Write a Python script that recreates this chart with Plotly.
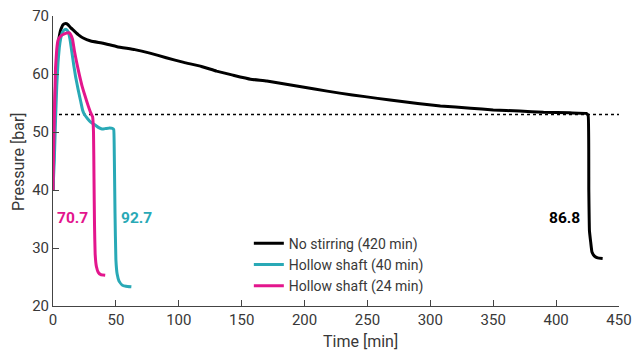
import plotly.graph_objects as go

# ---- data ----
t_none = [0, 1, 2, 3, 4, 5, 6, 7, 8, 10, 12, 14, 17, 20, 24, 30, 40, 51, 65, 77, 90, 104, 118, 130,
          143, 157, 170, 189, 208, 228, 248, 268, 290, 308, 332, 350, 371, 390, 411, 424, 425.5,
          426, 426.5, 427.5, 428.5, 430.5, 433, 437]
p_none = [40, 50, 58, 62.5, 65, 66.5, 67.5, 68.1, 68.5, 68.7, 68.5, 68, 67.4, 66.8, 66.2, 65.7, 65.3,
          64.7, 64.2, 63.6, 62.8, 62.0, 61.3, 60.5, 59.8, 59.1, 58.8, 58.1, 57.4, 56.7, 56.1, 55.5,
          54.9, 54.5, 54.1, 53.8, 53.6, 53.4, 53.3, 53.2, 52.8, 40, 33, 31, 29.3, 28.6, 28.3, 28.2]

t_40 = [0, 1, 2, 3, 4, 5, 6, 7, 8, 9, 10.5, 12, 13.5, 15, 16.5, 18, 20, 22, 23.5, 25, 27.5, 30,
        33.5, 36, 39, 42, 45, 47.5, 48.3, 48.8, 49.3, 50, 51, 52.5, 55, 58, 62.3]
p_40 = [40, 45, 52, 58, 62, 64.5, 66, 66.9, 67.4, 67.6, 67.7, 67.3, 66, 63.8, 61.5, 59.5, 57.3,
        55.3, 53.8, 53, 52.3, 51.7, 51.2, 50.8, 50.5, 50.6, 50.7, 50.6, 50.4, 45, 36, 28, 25.5,
        24.3, 23.6, 23.4, 23.3]

t_24 = [0, 0.5, 1, 2, 3, 4, 6, 8, 10, 12, 13, 14, 15.5, 17, 19, 21, 23, 25.5, 28, 30, 31.5, 32.2,
        32.6, 33, 33.5, 34.5, 36, 38, 41.5]
p_24 = [40, 47, 52, 61, 64.3, 65.8, 66.5, 66.8, 67, 67.1, 67.1, 66.8, 66, 64, 61.8, 59.8, 58, 56.2,
        54.5, 53.3, 52.6, 50, 42, 34, 29, 26.8, 25.8, 25.4, 25.3]

threshold_t = [0, 450]
threshold_p = [53, 53]

names = ["No stirring (420 min)", "Hollow shaft (40 min)", "Hollow shaft (24 min)"]
colors = ["#000000", "#29A9B6", "#E3168D"]

label_text = ["86.8", "92.7", "70.7"]
label_t = [407, 66.7, 15.5]
label_p = [35.2, 35.2, 35.2]

x_ticks = [0, 50, 100, 150, 200, 250, 300, 350, 400, 450]
y_ticks = [20, 30, 40, 50, 60, 70]
x_title = "Time [min]"
y_title = "Pressure [bar]"

FONT = "Roboto"
TXT = "#383838"

fig = go.Figure()
fig.add_trace(go.Scatter(x=threshold_t, y=threshold_p, mode="lines", showlegend=False,
                         line=dict(color="#000000", width=1.5, dash="dot"), hoverinfo="skip"))
for t, p, n, c in zip([t_none, t_40, t_24], [p_none, p_40, p_24], names, colors):
    fig.add_trace(go.Scatter(x=t, y=p, mode="lines", name=n,
                             line=dict(color=c, width=3, shape="spline", smoothing=0.3)))

for txt, x, y, c in zip(label_text, label_t, label_p, colors):
    fig.add_annotation(x=x, y=y, text="<b>" + txt + "</b>", showarrow=False,
                       font=dict(family=FONT, size=15.5, color=c), xanchor="center", yanchor="middle")

# axis titles
fig.add_annotation(xref="paper", yref="paper", x=0.544, y=-0.124, text=x_title, showarrow=False,
                   xanchor="center", yanchor="middle", font=dict(family=FONT, size=16, color=TXT))
fig.add_annotation(xref="paper", yref="paper", x=-0.062, y=0.5, text=y_title, showarrow=False,
                   textangle=-90, xanchor="center", yanchor="middle",
                   font=dict(family=FONT, size=16, color=TXT))

fig.update_layout(
    width=632, height=350,
    margin=dict(l=53, r=13, t=16, b=44),
    paper_bgcolor="white", plot_bgcolor="white",
    font=dict(family=FONT, size=15, color=TXT),
    legend=dict(x=0.346, y=0.27, xanchor="left", yanchor="top", bgcolor="rgba(0,0,0,0)",
                font=dict(family=FONT, size=14, color=TXT), tracegroupgap=0, itemwidth=30),
)
fig.update_xaxes(range=[0, 450], tickvals=x_ticks, showline=True, linecolor="#444444", linewidth=1,
                 ticks="inside", ticklen=6, tickcolor="#444444", showgrid=False, zeroline=False,
                 automargin=False, tickfont=dict(family=FONT, size=15, color=TXT))
fig.update_yaxes(range=[20, 70], tickvals=y_ticks, showline=True, linecolor="#444444", linewidth=1,
                 ticks="inside", ticklen=6, tickcolor="#444444", showgrid=False, zeroline=False,
                 automargin=False, tickfont=dict(family=FONT, size=15, color=TXT))

fig.write_html("out.html")
